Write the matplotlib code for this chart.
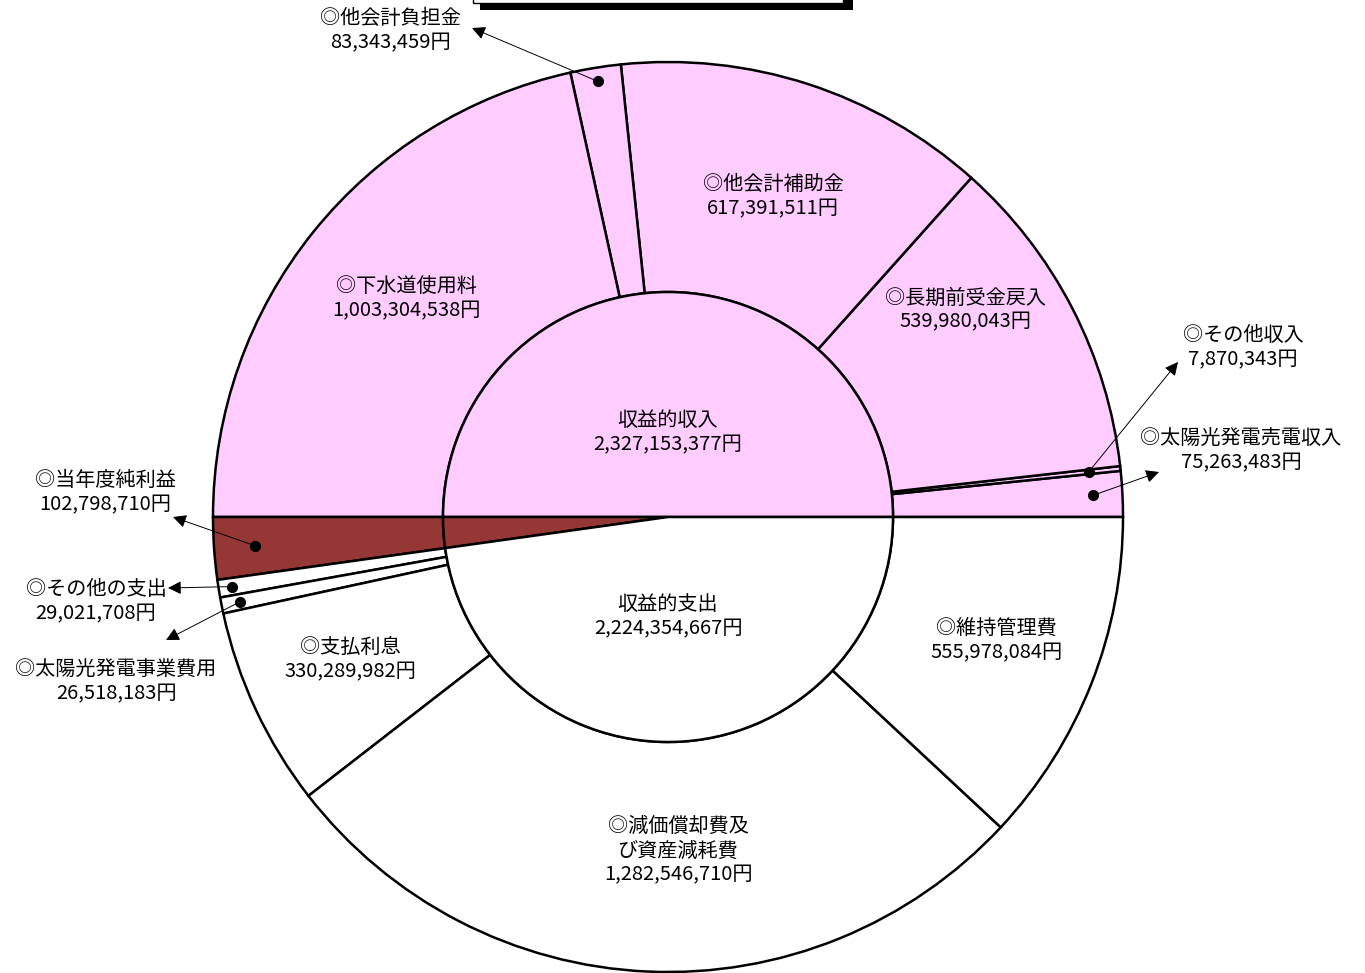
import numpy as np
import matplotlib
matplotlib.use('Agg')
import matplotlib.pyplot as plt
from matplotlib.patches import Rectangle

plt.rcParams['font.family'] = ['Noto Sans CJK JP', 'DejaVu Sans']

W, H = 1365, 973

#revenue side (counterclockwise from the right)
income_labels = ['太陽光発電売電収入', 'その他収入', '長期前受金戻入', '他会計補助金', '他会計負担金', '下水道使用料']
income_values = [75263483, 7870343, 539980043, 617391511, 83343459, 1003304538]

#expense side (counterclockwise from the left)
expense_labels = ['当年度純利益', 'その他の支出', '太陽光発電事業費用', '支払利息', '減価償却費及\nび資産減耗費', '維持管理費']
expense_values = [102798710, 29021708, 26518183, 330289982, 1282546710, 555978084]

total_income = 2327153377
total_expense = 2224354667

pink = '#FFCCFF'
darkred = '#953735'


def py(y):
    #image y (from top) -> axis y
    return H - y


fig = plt.figure(figsize=(W / 100, H / 100), dpi=100)
ax = fig.add_axes([0, 0, 1, 1])

center = (668, py(517))
R = 455
r_in = 225

outer_values = income_values + expense_values
outer_colors = [pink] * len(income_values) + [darkred] + ['white'] * (len(expense_values) - 1)
outer, _ = ax.pie(outer_values, radius=R, center=center, startangle=0, counterclock=True,
                  colors=outer_colors,
                  wedgeprops=dict(width=R - r_in, edgecolor='black', linewidth=1.8))

inner_values = [total_income, expense_values[0], total_expense]
inner, _ = ax.pie(inner_values, radius=r_in, center=center, startangle=0, counterclock=True,
                  colors=[pink, darkred, 'white'],
                  wedgeprops=dict(edgecolor='black', linewidth=1.8))

ax.set_xlim(0, W)
ax.set_ylim(0, H)
ax.set_aspect('equal')
ax.axis('off')


def fmt(v):
    return '{:,}円'.format(v)


fs = 14.5
txt = dict(ha='center', va='center', fontsize=fs, linespacing=1.2, multialignment='center')

#big labels inside wedges
ax.text(668, py(433), '収益的収入\n' + fmt(total_income), **txt)
ax.text(668, py(617), '収益的支出\n' + fmt(total_expense), **txt)

label_pos = {
    '長期前受金戻入': (965, 310),
    '他会計補助金': (773, 197),
    '下水道使用料': (406, 299),
    '支払利息': (350, 660),
    '減価償却費及\nび資産減耗費': (678, 851),
    '維持管理費': (996, 641),
    '太陽光発電売電収入': (1241, 451),
    'その他収入': (1243, 348),
    '他会計負担金': (390, 31),
    '当年度純利益': (105, 493),
    'その他の支出': (96, 602),
    '太陽光発電事業費用': (116, 682),
}

#small wedges get a dot and an arrow
arrow_to = {
    '太陽光発電売電収入': ((1159, 472), 0.935),
    'その他収入': ((1178, 362), 0.93),
    '他会計負担金': ((472, 28), 0.97),
    '当年度純利益': ((173, 517), 0.91),
    'その他の支出': ((168, 588), 0.97),
    '太陽光発電事業費用': ((166, 640), 0.96),
}

all_labels = income_labels + expense_labels
for lab, val, w in zip(all_labels, outer_values, outer):
    x, y = label_pos[lab]
    ax.text(x, py(y), '◎' + lab + '\n' + fmt(val), **txt)
    if lab in arrow_to:
        head, frac = arrow_to[lab]
        th = np.deg2rad((w.theta1 + w.theta2) / 2)
        dx = center[0] + R * frac * np.cos(th)
        dy = center[1] + R * frac * np.sin(th)
        ax.plot(dx, dy, 'o', color='black', markersize=7, zorder=5)
        ax.annotate('', xy=(head[0], py(head[1])), xytext=(dx, dy),
                    arrowprops=dict(arrowstyle='-|>', color='black', lw=0.7,
                                    mutation_scale=20, shrinkA=0, shrinkB=0),
                    zorder=5)

#title box cut off at the top edge
ax.add_patch(Rectangle((480, py(10)), 373, 30, facecolor='black', edgecolor='none', clip_on=False))
ax.add_patch(Rectangle((473, py(3)), 370, 30, facecolor='white', edgecolor='black', lw=1, clip_on=False))

fig.savefig('out.png', dpi=100)
